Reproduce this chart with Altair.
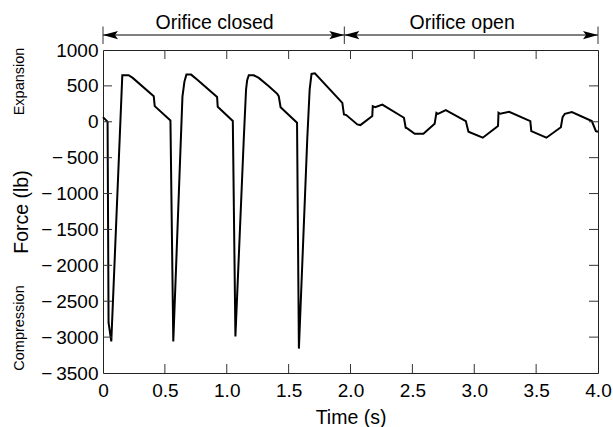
import altair as alt
import pandas as pd

# ---- data ----
time_s = [0.000, 0.032, 0.037, 0.045, 0.067, 0.156, 0.207, 0.240, 0.410, 0.418, 0.545,
          0.568, 0.642, 0.658, 0.674, 0.712, 0.760, 0.922, 0.927, 1.049,
          1.070, 1.138, 1.156, 1.165, 1.178, 1.218, 1.259, 1.340, 1.408, 1.420, 1.435, 1.568,
          1.583, 1.651, 1.670, 1.685, 1.712, 1.934, 1.947, 1.966,
          2.055, 2.080, 2.176, 2.180, 2.200, 2.257, 2.432, 2.446, 2.459, 2.519, 2.589,
          2.680, 2.694, 2.707, 2.770, 2.932, 2.953, 3.069, 3.192, 3.196, 3.210, 3.282,
          3.453, 3.461, 3.583, 3.700, 3.714, 3.732, 3.789, 3.950, 3.983, 4.000]
force_lb = [65, 10, 0, -2800, -3060, 648, 648, 611, 357, 218, 18,
            -3060, 350, 560, 657, 657, 588, 347, 208, 10,
            -2990, -222, 450, 580, 648, 648, 611, 496, 389, 357, 204, -14,
            -3160, -222, 450, 667, 676, 264, 101, 93,
            -37, -46, 79, 218, 204, 240, 56, -83, -93, -167, -167,
            -28, 125, 111, 162, 10, -139, -222, -60, 125, 111, 139,
            10, -130, -222, -76, 65, 111, 135, 10, -130, -139]

x_ticks = [0, 0.5, 1.0, 1.5, 2.0, 2.5, 3.0, 3.5, 4.0]
y_ticks = [-3500, -3000, -2500, -2000, -1500, -1000, -500, 0, 500, 1000]
x_inner_ticks = [0.5, 1.0, 1.5, 2.0, 2.5, 3.0, 3.5]
y_inner_ticks = [-3000, -2500, -2000, -1500, -1000, -500, 0, 500]

phase_labels = ["Orifice closed", "Orifice open"]
phase_start = [0.0, 1.95]
phase_end = [1.95, 4.0]
phase_bounds = [0.0, 1.95, 4.0]

# ---- tables ----
df = pd.DataFrame({"t": time_s, "f": force_lb})
xt = pd.DataFrame({"v": x_inner_ticks})
yt = pd.DataFrame({"v": y_inner_ticks})
ph = pd.DataFrame({"label": phase_labels, "start": phase_start, "end": phase_end})
ph["mid"] = (ph["start"] + ph["end"]) / 2
pb = pd.DataFrame({"b": phase_bounds})
dummy = pd.DataFrame({"a": [0]})

W, H = 495, 323
FONT = "Liberation Sans"

xscale = alt.Scale(domain=[0, 4], nice=False)
yscale = alt.Scale(domain=[-3500, 1000], nice=False)
xaxis = alt.Axis(values=x_ticks, title="Time (s)", labelFlush=False,
                 labelExpr="datum.value == 0 ? '0' : format(datum.value, '.1f')",
                 labelPadding=8, titleY=50, titleBaseline="alphabetic")
yaxis = alt.Axis(values=y_ticks, title="Force (lb)", labelFlush=False,
                 labelExpr="datum.value < 0 ? '\u2212\u2009' + format(-datum.value, 'd') : format(datum.value, 'd')",
                 labelPadding=5, titleX=-76, titleY=161.5, titleBaseline="alphabetic")


def X(field):
    return alt.X(field, scale=xscale, axis=xaxis)


def Y(field):
    return alt.Y(field, scale=yscale, axis=yaxis)


line = alt.Chart(df).mark_line(color="black", strokeWidth=2).encode(
    x=X("t:Q"), y=Y("f:Q"))

tick_color = "#333"
bottom_ticks = alt.Chart(xt).mark_rule(color=tick_color, strokeWidth=1).encode(
    x=X("v:Q"), y=alt.value(H), y2=alt.value(H - 9))
top_ticks = alt.Chart(xt).mark_rule(color=tick_color, strokeWidth=1).encode(
    x=X("v:Q"), y=alt.value(0), y2=alt.value(9))
left_ticks = alt.Chart(yt).mark_rule(color=tick_color, strokeWidth=1).encode(
    y=Y("v:Q"), x=alt.value(0), x2=alt.value(9))
right_ticks = alt.Chart(yt).mark_rule(color=tick_color, strokeWidth=1).encode(
    y=Y("v:Q"), x=alt.value(W), x2=alt.value(W - 9))

arrow_line = alt.Chart(ph).mark_rule(color="black", strokeWidth=1).encode(
    x=X("start:Q"), x2="end:Q", y=alt.value(-15))
bars = alt.Chart(pb).mark_rule(color="#333", strokeWidth=1).encode(
    x=X("b:Q"), y=alt.value(-23.5), y2=alt.value(-6))
left_head = alt.Chart(ph).mark_point(
    shape="M0,0 L2,-0.55 L1.6,0 L2,0.55 Z", size=225, filled=True,
    color="black", opacity=1, strokeWidth=0).encode(
    x=X("start:Q"), y=alt.value(-15))
right_head = alt.Chart(ph).mark_point(
    shape="M0,0 L-2,-0.55 L-1.6,0 L-2,0.55 Z", size=225, filled=True,
    color="black", opacity=1, strokeWidth=0).encode(
    x=X("end:Q"), y=alt.value(-15))
phase_text = alt.Chart(ph).mark_text(
    font=FONT, fontSize=19.5, color="black", baseline="alphabetic", align="center",
    xOffset=-9).encode(
    x=X("mid:Q"), y=alt.value(-21.5), text="label:N")

exp_text = alt.Chart(dummy).mark_text(
    font=FONT, fontSize=14.5, color="black", angle=270, baseline="alphabetic",
    align="center").encode(x=alt.value(-79), y=alt.value(31.5), text=alt.value("Expansion"))
comp_text = alt.Chart(dummy).mark_text(
    font=FONT, fontSize=14.5, color="black", angle=270, baseline="alphabetic",
    align="center").encode(x=alt.value(-79), y=alt.value(278), text=alt.value("Compression"))

chart = alt.layer(
    line, bottom_ticks, top_ticks, left_ticks, right_ticks,
    arrow_line, bars, left_head, right_head, phase_text, exp_text, comp_text
).properties(
    width=W, height=H,
    padding={"left": 103, "top": 50, "right": 15, "bottom": 54},
    autosize=alt.AutoSizeParams(type="none"),
    background="white",
).configure_view(
    stroke="#222", strokeWidth=1
).configure_axis(
    grid=False, domain=False, ticks=False, tickSize=0,
    labelFont=FONT, labelFontSize=19, labelColor="black",
    titleFont=FONT, titleFontSize=19.5, titleFontWeight="normal", titleColor="black",
)

chart.save("out.html", embed_options={"renderer": "svg", "actions": False})
